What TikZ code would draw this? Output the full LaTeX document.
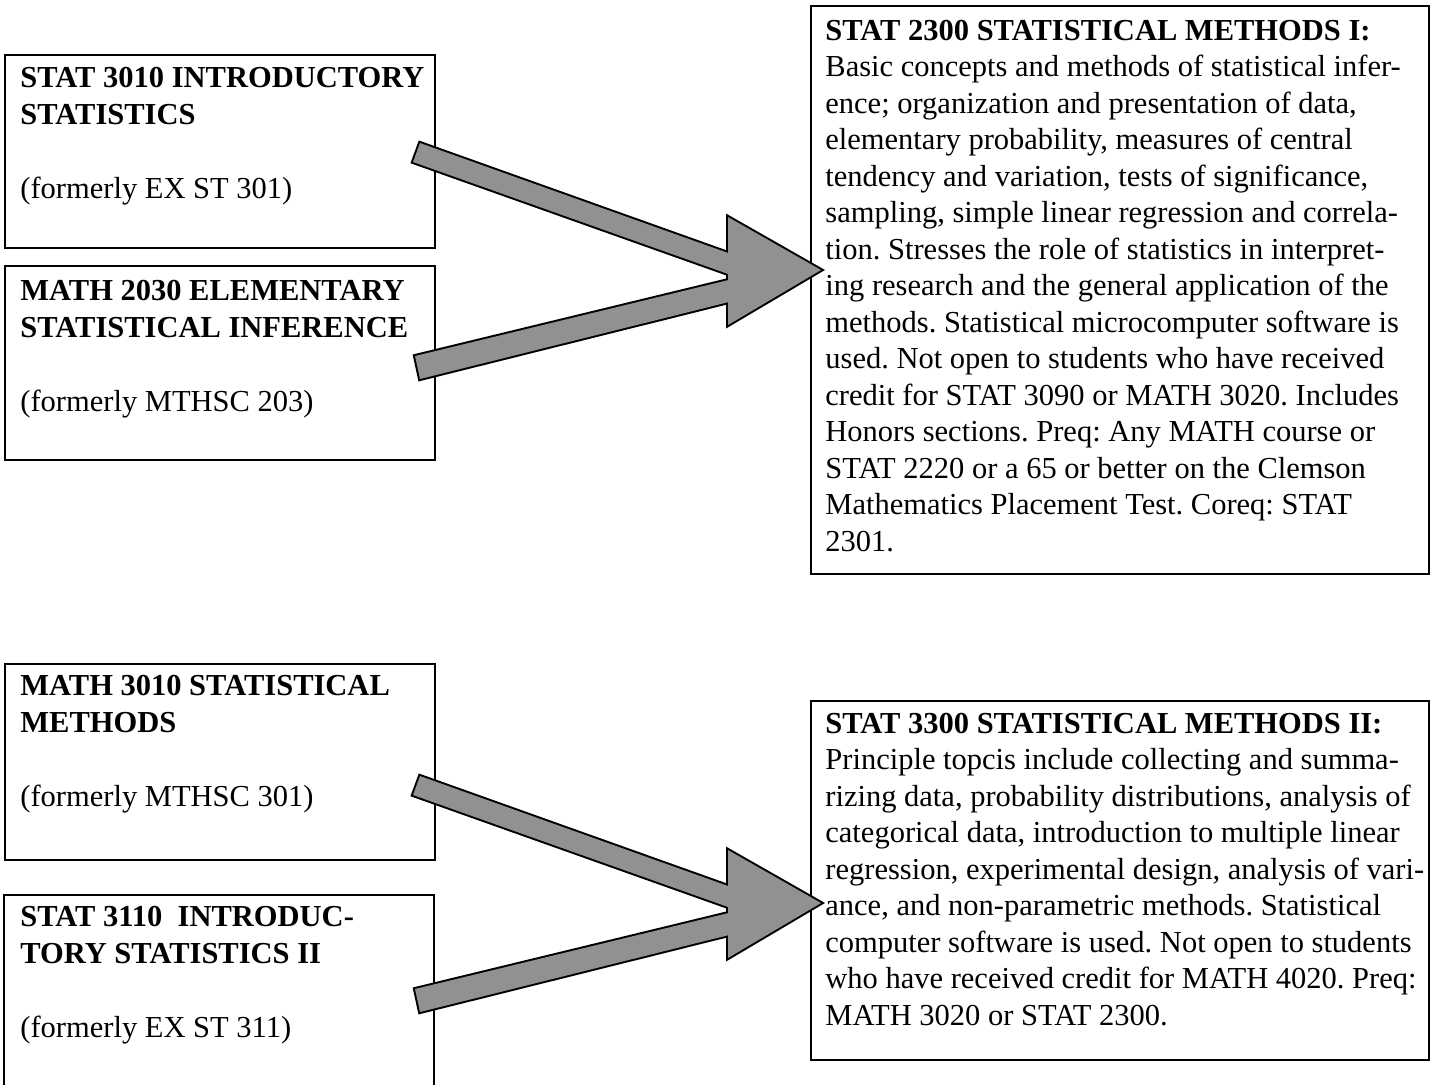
\documentclass[tikz,border=0pt]{standalone}
\usepackage{fontspec}
\setmainfont{Liberation Serif}
\usetikzlibrary{calc}
\definecolor{arrowgray}{RGB}{145,145,145}
\newcommand\lstrut{\rule{0pt}{12pt}}
\frenchspacing
\begin{document}
\begin{tikzpicture}[x=0.5pt,y=-0.5pt,
  boxline/.style={draw=black,line width=0.9pt},
  frame/.style={boxline,anchor=north west,inner sep=0pt,minimum width=215pt},
  crs/.style={anchor=north west,inner sep=0pt,align=left,font=\fontsize{15.25}{18.5}\selectfont},
  desc/.style={anchor=north west,inner sep=0pt,align=left,font=\fontsize{15.25}{18.25}\selectfont},
  arrowedge/.style={draw=black,line width=2pt,line join=miter},
  arrowfill/.style={fill=arrowgray}]
\useasboundingbox (0,0) rectangle (1435,1084);

% left course boxes
\node[frame,minimum height=96.5pt] (bA) at (4,54) {};
\node[frame,minimum height=97pt] (bB) at (4,265) {};
\node[frame,minimum height=98pt] (bC) at (4,663) {};
\draw[boxline] (4,1095) -- (4,895) -- (434,895) -- (434,1095);

\node[crs] (tA) at (20,63) {\lstrut\textbf{STAT 3010 INTRODUCTORY}\\\textbf{STATISTICS}\\[18.5pt](formerly EX ST 301)};
\node[crs] (tB) at (20,276) {\lstrut\textbf{MATH 2030 ELEMENTARY}\\\textbf{STATISTICAL INFERENCE}\\[18.5pt](formerly MTHSC 203)};
\node[crs] (tC) at (20,671) {\lstrut\textbf{MATH 3010 STATISTICAL}\\\textbf{METHODS}\\[18.5pt](formerly MTHSC 301)};
\node[crs] (tD) at (20,902) {\lstrut\textbf{STAT 3110\ \ INTRODUC-}\\\textbf{TORY STATISTICS II}\\[18.5pt](formerly EX ST 311)};

% right description boxes
\node[boxline,anchor=north west,inner sep=0pt,minimum width=309pt,minimum height=284pt] (m1) at (810,5) {};
\node[boxline,anchor=north west,inner sep=0pt,minimum width=309pt,minimum height=179.5pt] (m2) at (810,700) {};

\node[desc] (d1) at (825,16) {\lstrut\textbf{STAT 2300 STATISTICAL METHODS I:}\\
Basic concepts and methods of statistical infer-\\
ence; organization and presentation of data,\\
elementary probability, measures of central\\
tendency and variation, tests of significance,\\
sampling, simple linear regression and correla-\\
tion. Stresses the role of statistics in interpret-\\
ing research and the general application of the\\
methods. Statistical microcomputer software is\\
used. Not open to students who have received\\
credit for STAT 3090 or MATH 3020. Includes\\
Honors sections. Preq: Any MATH course or\\
STAT 2220 or a 65 or better on the Clemson\\
Mathematics Placement Test. Coreq: STAT\\
2301.};

\node[desc] (d2) at (825,709) {\lstrut\textbf{STAT 3300 STATISTICAL METHODS II:}\\
Principle topcis include collecting and summa-\\
rizing data, probability distributions, analysis of\\
categorical data, introduction to multiple linear\\
regression, experimental design, analysis of vari-\\
ance, and non-parametric methods. Statistical\\
computer software is used. Not open to students\\
who have received credit for MATH 4020. Preq:\\
MATH 3020 or STAT 2300.};

% merged block arrows, top group
\coordinate (a1t) at (420,143); \coordinate (a1b) at (413,162);
\coordinate (a1u) at (745,259); \coordinate (a1l) at (745,280);
\coordinate (a2t) at (415,356); \coordinate (a2b) at (420,379);
\coordinate (a2u) at (745,276); \coordinate (a2l) at (745,298);
\coordinate (h1t) at (728,217); \coordinate (h1tip) at (821,270); \coordinate (h1b) at (728,325);
\draw[arrowedge] (a1t) -- (a1u) -- (a1l) -- (a1b) -- cycle
                 (a2t) -- (a2u) -- (a2l) -- (a2b) -- cycle
                 (h1t) -- (h1tip) -- (h1b) -- cycle;
\fill[arrowfill] (a1t) -- (a1u) -- (a1l) -- (a1b) -- cycle
                 (a2t) -- (a2u) -- (a2l) -- (a2b) -- cycle
                 (h1t) -- (h1tip) -- (h1b) -- cycle;

% merged block arrows, bottom group
\coordinate (c1t) at (420,776); \coordinate (c1b) at (413,795);
\coordinate (c1u) at (745,892); \coordinate (c1l) at (745,913);
\coordinate (c2t) at (415,989); \coordinate (c2b) at (420,1012);
\coordinate (c2u) at (745,909); \coordinate (c2l) at (745,931);
\coordinate (h2t) at (728,850); \coordinate (h2tip) at (821,903); \coordinate (h2b) at (728,958);
\draw[arrowedge] (c1t) -- (c1u) -- (c1l) -- (c1b) -- cycle
                 (c2t) -- (c2u) -- (c2l) -- (c2b) -- cycle
                 (h2t) -- (h2tip) -- (h2b) -- cycle;
\fill[arrowfill] (c1t) -- (c1u) -- (c1l) -- (c1b) -- cycle
                 (c2t) -- (c2u) -- (c2l) -- (c2b) -- cycle
                 (h2t) -- (h2tip) -- (h2b) -- cycle;
\end{tikzpicture}
\end{document}
